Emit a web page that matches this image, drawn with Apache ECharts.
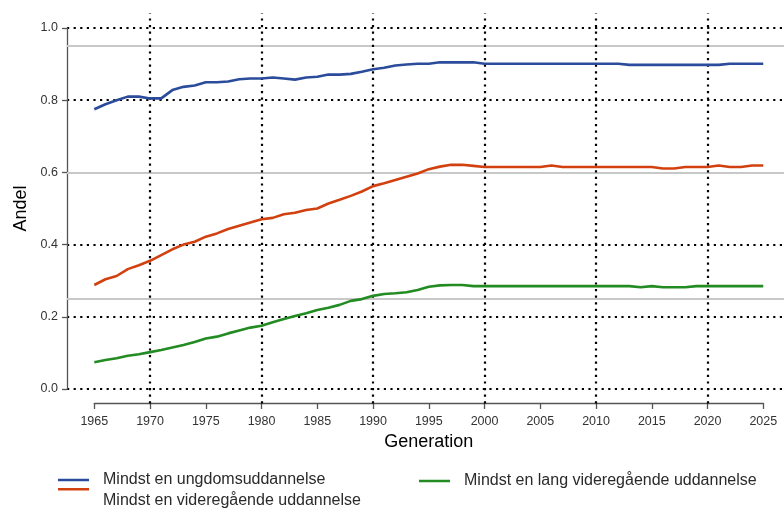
<!DOCTYPE html>
<html><head><meta charset="utf-8">
<script src="https://cdn.jsdelivr.net/npm/echarts@6/dist/echarts.min.js"></script>
<style>html,body{margin:0;padding:0;background:#fff}#c{width:784px;height:508px}</style>
</head><body><div id="c"></div>
<script>
const years = [1965,1966,1967,1968,1969,1970,1971,1972,1973,1974,1975,1976,1977,1978,1979,1980,1981,1982,1983,1984,1985,1986,1987,1988,1989,1990,1991,1992,1993,1994,1995,1996,1997,1998,1999,2000,2001,2002,2003,2004,2005,2006,2007,2008,2009,2010,2011,2012,2013,2014,2015,2016,2017,2018,2019,2020,2021,2022,2023,2024,2025];
const seriesNames = ['Mindst en ungdomsuddannelse','Mindst en videregående uddannelse','Mindst en lang videregående uddannelse'];
const ungdom = [.775,.789,.800,.810,.810,.805,.805,.828,.837,.841,.850,.850,.852,.858,.860,.860,.863,.860,.857,.863,.865,.871,.871,.873,.879,.886,.890,.896,.899,.901,.901,.905,.905,.905,.905,
  .901,.901,.901,.901,.901,.901,.901,.901,.901,.901,.901,.901,.901,.898,.898,.898,.898,.898,.898,.898,.898,.898,.901,.901,.901,.901];
const videre = [.288,.304,.313,.332,.343,.355,.371,.387,.400,.408,.422,.431,.443,.452,.461,.470,.474,.484,.488,.496,.500,.514,.524,.535,.547,.562,.570,.579,.588,.597,.609,.616,.621,.621,.618,
  .615,.615,.615,.615,.615,.615,.619,.615,.615,.615,.615,.615,.615,.615,.615,.615,.611,.611,.615,.615,.615,.619,.615,.615,.619,.619];
const lang = [.074,.080,.085,.092,.096,.102,.108,.115,.122,.130,.140,.145,.154,.162,.170,.175,.185,.194,.202,.210,.219,.225,.233,.244,.249,.258,.263,.265,.268,.274,.283,.287,.288,.288,.285,
  .285,.285,.285,.285,.285,.285,.285,.285,.285,.285,.285,.285,.285,.285,.282,.285,.282,.282,.282,.285,.285,.285,.285,.285,.285,.285];
const xTicks = [1965,1970,1975,1980,1985,1990,1995,2000,2005,2010,2015,2020,2025];
const vGridYears = [1970,1980,1990,2000,2010,2020];
const yTicks = [0,0.2,0.4,0.6,0.8,1.0];
const refLines = [0.95,0.6,0.25];
const colors = ['#2B4B9B','#D2400F','#228B22'];

const font = "'Liberation Sans', Arial, sans-serif";
const pairs = arr => years.map((y,i)=>[y,arr[i]]);
const chart = echarts.init(document.getElementById('c'));
const dotted = {color:'#000', width:2.2, type:[2.2,4.4]};
const legendText = {fontFamily:font, fontSize:16, color:'#2a2a2a', padding:[0,0,0,9]};

const option = {
  animation:false,
  grid:[
    {left:67, right:0, top:13.6, bottom:104.6},
    {left:67, right:0, top:28, height:361},
    {left:94.3, width:669, top:402, height:1}
  ],
  xAxis:[
    {gridIndex:0, type:'value', min:1962.55, max:2026.86, show:false},
    {gridIndex:1, type:'value', min:0, max:1, show:false},
    {gridIndex:2, type:'value', min:1965, max:2025, interval:5,
      axisLine:{lineStyle:{color:'#555',width:1.3}},
      axisTick:{length:6, lineStyle:{color:'#555',width:1.3}},
      splitLine:{show:false},
      axisLabel:{margin:12, color:'#333', fontFamily:font, fontSize:12.5, formatter:v=>String(v)},
      name:'Generation', nameLocation:'middle', nameGap:30,
      nameTextStyle:{fontFamily:font, fontSize:18, color:'#000'}}
  ],
  yAxis:[
    {gridIndex:0, type:'value', min:-0.04, max:1.04, show:false},
    {gridIndex:1, type:'value', min:0, max:1, interval:0.2, z:4,
      axisLine:{show:true, lineStyle:{color:'#555',width:1.3}},
      axisTick:{show:true, length:5, lineStyle:{color:'#555',width:1.3}},
      axisLabel:{margin:9, color:'#333', fontFamily:font, fontSize:12.5, formatter:v=>v.toFixed(1)},
      splitLine:{show:true, lineStyle:dotted},
      name:'Andel', nameLocation:'middle', nameGap:35, nameRotate:90,
      nameTextStyle:{fontFamily:font, fontSize:18, color:'#000'}},
    {gridIndex:2, type:'value', show:false}
  ],
  legend:[
    {data:[seriesNames[0]], left:53, top:467, itemWidth:31, itemHeight:2.5, icon:'rect',
      textStyle:legendText, selectedMode:false},
    {data:[seriesNames[1]], left:53, top:483, itemWidth:31, itemHeight:26,
      icon:'path://M0,0 L31,0 L31,2.5 L0,2.5 Z M0,25.95 L0.05,25.95 L0.05,26 L0,26 Z',
      textStyle:legendText, selectedMode:false},
    {data:[seriesNames[2]], left:414, top:468, itemWidth:31, itemHeight:2.5, icon:'rect',
      textStyle:legendText, selectedMode:false}
  ],
  series:[
    {type:'line', xAxisIndex:0, yAxisIndex:0, data:[], z:1, silent:true,
      markLine:{silent:true, symbol:'none', label:{show:false}, animation:false,
        lineStyle:{color:'#C8C8C8', width:2, type:'solid'},
        data:refLines.map(v=>({yAxis:v}))}},
    {type:'line', xAxisIndex:0, yAxisIndex:0, data:[], z:5, silent:true,
      markLine:{silent:true, symbol:'none', label:{show:false}, animation:false,
        lineStyle:dotted, data:vGridYears.map(v=>({xAxis:v}))}},
    ...[ungdom, videre, lang].map((arr,i)=>({
      name:seriesNames[i], type:'line', xAxisIndex:0, yAxisIndex:0,
      data:pairs(arr), showSymbol:false, symbol:'none', z:6,
      lineStyle:{color:colors[i], width:2.6}, itemStyle:{color:colors[i]}
    }))
  ]
};
chart.setOption(option);
</script></body></html>
